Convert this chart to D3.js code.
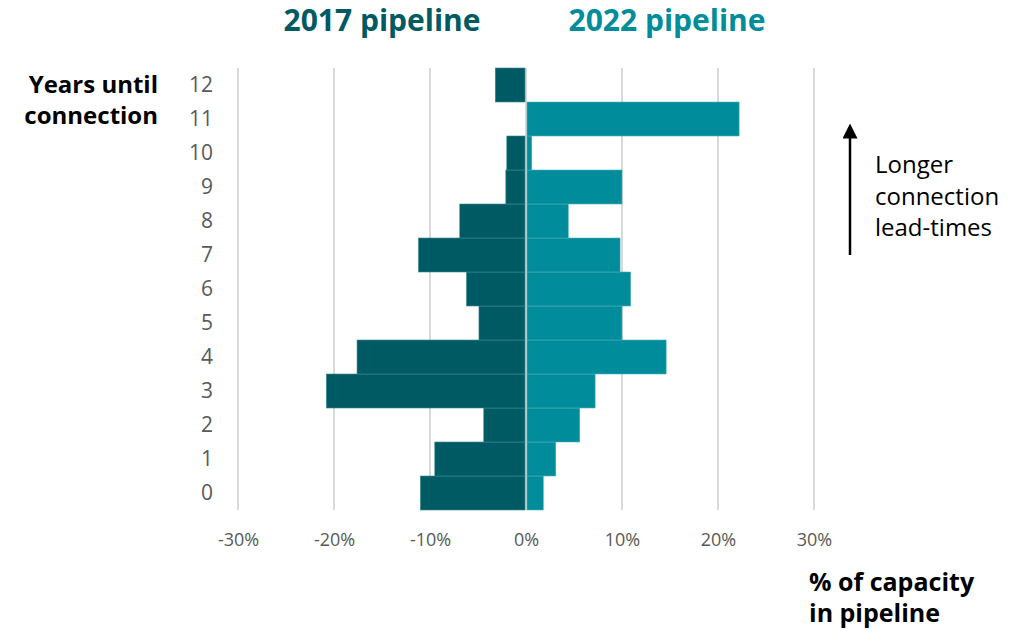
<!DOCTYPE html>
<html><head><meta charset="utf-8">
<script src="https://cdn.jsdelivr.net/npm/d3@7"></script>
<style>body{margin:0;background:#fff;} svg{display:block;}</style>
</head><body>
<svg id="chart" width="1032" height="631"></svg>
<script>
const years = [0,1,2,3,4,5,6,7,8,9,10,11,12];
const pipeline2017 = [-11.0,-9.5,-4.4,-20.8,-17.6,-4.9,-6.2,-11.2,-6.9,-2.1,-2.0,0,-3.2];
const pipeline2022 = [1.8,3.1,5.6,7.2,14.6,10.0,10.9,9.8,4.4,10.0,0.6,22.2,0];
const xTicks = [-30,-20,-10,0,10,20,30];
const seriesNames = ["2017 pipeline","2022 pipeline"];

const dark = "#005a63", light = "#008c9a", grey = "#595959";
const font = "'Open Sans', 'Noto Sans', sans-serif";
const svg = d3.select("#chart");

const x = d3.scaleLinear().domain([-30,30]).range([238,814]);
const y = d3.scaleBand().domain(years.slice().reverse()).range([68,510]).padding(0);

// gridlines
svg.append("g").selectAll("line").data(xTicks).join("line")
  .attr("x1",d=>x(d)).attr("x2",d=>x(d)).attr("y1",68).attr("y2",510)
  .attr("stroke","#d9d9d9").attr("stroke-width",2);

// bars
svg.append("g").selectAll("rect").data(years.map((yr,i)=>({yr,v:pipeline2017[i]}))).join("rect")
  .attr("x",d=>x(d.v)).attr("width",d=>Math.max(0,x(0)-1-x(d.v)))
  .attr("y",d=>y(d.yr)).attr("height",y.bandwidth())
  .attr("fill",dark).attr("stroke","#3d8a90").attr("stroke-width",0.6)
  .attr("display",d=>d.v===0?"none":null);
svg.append("g").selectAll("rect").data(years.map((yr,i)=>({yr,v:pipeline2022[i]}))).join("rect")
  .attr("x",x(0)+1).attr("width",d=>Math.max(0,x(d.v)-x(0)-1))
  .attr("y",d=>y(d.yr)).attr("height",y.bandwidth())
  .attr("fill",light).attr("stroke","#4fb0ba").attr("stroke-width",0.6)
  .attr("display",d=>d.v===0?"none":null);

// x axis labels
const xAxis = d3.axisBottom(x).tickValues(xTicks).tickFormat(d=>d+"%").tickSize(0).tickPadding(0);
const gx = svg.append("g").attr("transform","translate(0,533)").call(xAxis);
gx.select(".domain").remove();
gx.selectAll("text").attr("font-family",font).attr("font-size",18).attr("fill",grey);

// y axis labels
const yAxis = d3.axisLeft(y).tickSize(0).tickPadding(0);
const gy = svg.append("g").attr("transform","translate(213,0)").call(yAxis);
gy.select(".domain").remove();
gy.selectAll("text").attr("font-family",font).attr("font-size",21).attr("fill",grey).attr("dy","0.35em");

// series titles
svg.append("text").attr("x",382).attr("y",31).attr("text-anchor","middle")
  .attr("font-family",font).attr("font-weight",700).attr("font-size",30).attr("fill",dark).text(seriesNames[0]);
svg.append("text").attr("x",667).attr("y",31).attr("text-anchor","middle")
  .attr("font-family",font).attr("font-weight",700).attr("font-size",30).attr("fill",light).text(seriesNames[1]);

// y title
const yt = svg.append("text").attr("text-anchor","end").attr("font-family",font)
  .attr("font-weight",700).attr("font-size",24).attr("fill","#000");
yt.append("tspan").attr("x",158).attr("y",93).text("Years until");
yt.append("tspan").attr("x",158).attr("y",124).text("connection");

// x title
const xt = svg.append("text").attr("font-family",font)
  .attr("font-weight",700).attr("font-size",25).attr("fill","#000");
xt.append("tspan").attr("x",809).attr("y",591).text("% of capacity");
xt.append("tspan").attr("x",809).attr("y",622).text("in pipeline");

// arrow annotation
svg.append("defs").append("marker").attr("id","ah").attr("viewBox","0 0 10 10")
  .attr("refX",5).attr("refY",5).attr("markerWidth",6).attr("markerHeight",6)
  .attr("orient","auto").append("path").attr("d","M0,0L10,5L0,10z").attr("fill","#000");
svg.append("line").attr("x1",850).attr("x2",850).attr("y1",255).attr("y2",131)
  .attr("stroke","#000").attr("stroke-width",2.5).attr("marker-end","url(#ah)");
const an = svg.append("text").attr("font-family",font).attr("font-size",24).attr("fill","#000");
an.append("tspan").attr("x",875).attr("y",173).text("Longer");
an.append("tspan").attr("x",875).attr("y",205).text("connection");
an.append("tspan").attr("x",875).attr("y",236).text("lead-times");
</script>
</body></html>
